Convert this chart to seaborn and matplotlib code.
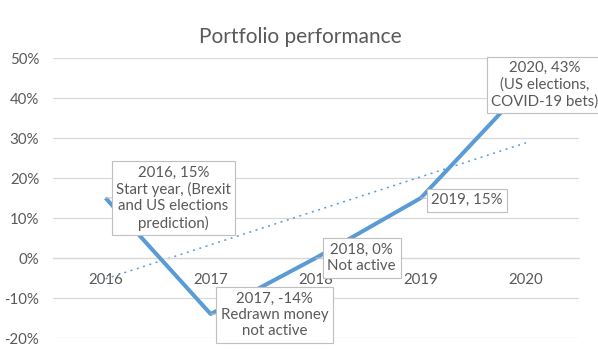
import matplotlib
matplotlib.use("Agg")
import matplotlib.pyplot as plt
import seaborn as sns
import pandas as pd

# ---- data ----
years = [2016, 2017, 2018, 2019, 2020]
returns = [15, -14, 0, 15, 43]
notes = [
    "Start year, (Brexit\nand US elections\nprediction)",
    "Redrawn money\nnot active",
    "Not active",
    "",
    "(US elections,\nCOVID-19 bets)",
]
yticks = [-20, -10, 0, 10, 20, 30, 40, 50]
title = "Portfolio performance"

# ---- style ----
sns.set_theme(style="white")
plt.rcParams["font.family"] = ["Lato", "DejaVu Sans"]
TXT = "#595959"
BLUE = "#5B9BD5"
GRID = "#D9D9D9"

W, H = 598, 351
fig = plt.figure(figsize=(W / 100, H / 100), dpi=100)
ax = fig.add_axes([53 / W, 13 / H, (578.5 - 53) / W, (338 - 58) / H])

df = pd.DataFrame({"year": years, "ret": returns})
sns.regplot(data=df, x="year", y="ret", scatter=False, ci=None, ax=ax,
            line_kws=dict(color=BLUE, lw=1.1, dashes=(1.3, 3.0),
                          dash_capstyle="butt", zorder=2))
sns.lineplot(data=df, x="year", y="ret", ax=ax, color=BLUE, lw=2.9,
             solid_joinstyle="round", solid_capstyle="butt", zorder=3)

ax.set_xlim(2015.5, 2020.5)
ax.set_ylim(-20, 50)
ax.set_yticks(yticks)
ax.set_yticklabels([f"{v}%" for v in yticks])
ax.set_xticks(years)
ax.set_xticklabels([str(y) for y in years])
ax.set_xlabel("")
ax.set_ylabel("")
ax.grid(axis="y", color=GRID, lw=0.9)
ax.set_axisbelow(True)
for s in ["top", "right", "left"]:
    ax.spines[s].set_visible(False)
ax.spines["bottom"].set_position(("data", 0))
ax.spines["bottom"].set_color(GRID)
ax.spines["bottom"].set_linewidth(0.9)
ax.tick_params(axis="x", length=0, pad=10.5, labelsize=10.8, labelcolor=TXT)
ax.tick_params(axis="y", length=0, pad=10, labelsize=10.8, labelcolor=TXT)

fig.text(300 / W, 1 - 37 / H, title, ha="center", va="center",
         fontsize=15, color=TXT)

offsets = [(68, 0), (64, -1), (46, 0), (46, -2), (19, 1)]
for (yr, v, note, off) in zip(years, returns, notes, offsets):
    txt = f"{yr}, {v}%" + (f"\n{note}" if note else "")
    ax.annotate(txt, xy=(yr, v), xytext=off, textcoords="offset pixels",
                ha="center", va="center", fontsize=10.8, color=TXT,
                linespacing=1.2, zorder=5, annotation_clip=False,
                bbox=dict(boxstyle="square,pad=0.3", fc="white",
                          ec="#BFBFBF", lw=0.8),
                arrowprops=dict(arrowstyle="-", color="#BFBFBF", lw=0.8,
                                shrinkA=0, shrinkB=0))

fig.savefig("out.png", dpi=100, facecolor="white")
